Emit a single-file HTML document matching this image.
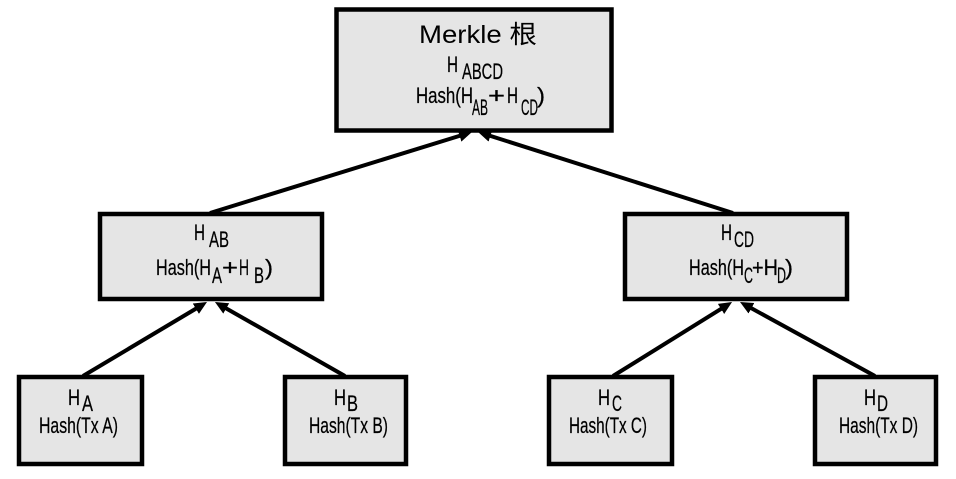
<!DOCTYPE html>
<html>
<head>
<meta charset="utf-8">
<style>
  html, body { margin: 0; padding: 0; background: #ffffff; }
  body { width: 956px; height: 479px; overflow: hidden; }
  svg { display: block; }
  .t { font-family: "Liberation Sans Narrow", "Liberation Sans", sans-serif; font-size: 22px; fill: #000; stroke: #000; stroke-width: 0.25; }
  .m { font-family: "Liberation Sans", "Noto Sans CJK SC", sans-serif; font-size: 25px; fill: #000; }
  rect.box { fill: #e5e5e5; stroke: #000; stroke-width: 4.5; }
  line.ar { stroke: #000; stroke-width: 4; marker-end: url(#ah); }
</style>
</head>
<body>
<svg width="956" height="479" viewBox="0 0 956 479" xmlns="http://www.w3.org/2000/svg">
  <defs>
    <marker id="ah" markerUnits="userSpaceOnUse" markerWidth="16" markerHeight="14" refX="8" refY="7" orient="auto">
      <path d="M0,1 L13,7 L0,13 z" fill="#000"/>
    </marker>
  </defs>

  <!-- Boxes -->
  <rect class="box" x="336.5" y="9.5" width="275" height="121"/>
  <rect class="box" x="100" y="214" width="222" height="85"/>
  <rect class="box" x="625" y="214" width="222" height="85"/>
  <rect class="box" x="19" y="377" width="123" height="87"/>
  <rect class="box" x="285" y="377" width="121" height="87"/>
  <rect class="box" x="549" y="377" width="123" height="87"/>
  <rect class="box" x="815" y="377" width="121" height="87"/>

  <!-- Arrows -->
  <line class="ar" x1="83" y1="376" x2="202.7" y2="304.6"/>
  <line class="ar" x1="345" y1="376" x2="219.3" y2="304.5"/>
  <line class="ar" x1="613" y1="376" x2="727.8" y2="304.7"/>
  <line class="ar" x1="875" y1="376" x2="744.4" y2="304.4"/>
  <line class="ar" x1="210" y1="213" x2="467.2" y2="133.5"/>
  <line class="ar" x1="733" y1="213" x2="482.8" y2="133.5"/>

  <!-- Root text -->
  <text class="m" x="419" y="43" textLength="118" lengthAdjust="spacingAndGlyphs">Merkle 根</text>
  <text class="t" x="447" y="72" textLength="11" lengthAdjust="spacingAndGlyphs">H</text>
  <text class="t" x="462" y="79" textLength="41" lengthAdjust="spacingAndGlyphs">ABCD</text>
  <text class="t" x="416" y="103" textLength="57" lengthAdjust="spacingAndGlyphs">Hash(H</text>
  <text class="t" x="472" y="115" textLength="16" lengthAdjust="spacingAndGlyphs">AB</text>
  <text class="t" x="488" y="103" textLength="17" lengthAdjust="spacingAndGlyphs">+</text>
  <text class="t" x="507" y="103" textLength="11" lengthAdjust="spacingAndGlyphs">H</text>
  <text class="t" x="521" y="115" textLength="17" lengthAdjust="spacingAndGlyphs">CD</text>
  <text class="t" x="537" y="103" textLength="8" lengthAdjust="spacingAndGlyphs">)</text>

  <!-- H_AB -->
  <text class="t" x="194" y="240" textLength="11" lengthAdjust="spacingAndGlyphs">H</text>
  <text class="t" x="209" y="247" textLength="20" lengthAdjust="spacingAndGlyphs">AB</text>
  <text class="t" x="156" y="275" textLength="55" lengthAdjust="spacingAndGlyphs">Hash(H</text>
  <text class="t" x="212" y="283" textLength="10" lengthAdjust="spacingAndGlyphs">A</text>
  <text class="t" x="222" y="275" textLength="16" lengthAdjust="spacingAndGlyphs">+</text>
  <text class="t" x="239" y="275" textLength="10" lengthAdjust="spacingAndGlyphs">H</text>
  <text class="t" x="254" y="283" textLength="10" lengthAdjust="spacingAndGlyphs">B</text>
  <text class="t" x="265" y="275" textLength="8" lengthAdjust="spacingAndGlyphs">)</text>

  <!-- H_CD -->
  <text class="t" x="721" y="240" textLength="11" lengthAdjust="spacingAndGlyphs">H</text>
  <text class="t" x="734" y="247" textLength="20" lengthAdjust="spacingAndGlyphs">CD</text>
  <text class="t" x="689" y="275" textLength="55" lengthAdjust="spacingAndGlyphs">Hash(H</text>
  <text class="t" x="744" y="283" textLength="9" lengthAdjust="spacingAndGlyphs">C</text>
  <text class="t" x="752" y="275" textLength="26" lengthAdjust="spacingAndGlyphs">+H</text>
  <text class="t" x="777" y="283" textLength="9" lengthAdjust="spacingAndGlyphs">D</text>
  <text class="t" x="785" y="275" textLength="8" lengthAdjust="spacingAndGlyphs">)</text>

  <!-- Leaves -->
  <text class="t" x="68" y="405" textLength="12" lengthAdjust="spacingAndGlyphs">H</text>
  <text class="t" x="82" y="411" textLength="11" lengthAdjust="spacingAndGlyphs">A</text>
  <text class="t" x="39" y="433" textLength="79" lengthAdjust="spacingAndGlyphs">Hash(Tx A)</text>

  <text class="t" x="334" y="405" textLength="12" lengthAdjust="spacingAndGlyphs">H</text>
  <text class="t" x="347" y="411" textLength="11" lengthAdjust="spacingAndGlyphs">B</text>
  <text class="t" x="309" y="433" textLength="79" lengthAdjust="spacingAndGlyphs">Hash(Tx B)</text>

  <text class="t" x="598" y="405" textLength="12" lengthAdjust="spacingAndGlyphs">H</text>
  <text class="t" x="612" y="411" textLength="10" lengthAdjust="spacingAndGlyphs">C</text>
  <text class="t" x="569" y="433" textLength="78" lengthAdjust="spacingAndGlyphs">Hash(Tx C)</text>

  <text class="t" x="864" y="405" textLength="12" lengthAdjust="spacingAndGlyphs">H</text>
  <text class="t" x="877" y="411" textLength="11" lengthAdjust="spacingAndGlyphs">D</text>
  <text class="t" x="839" y="433" textLength="79" lengthAdjust="spacingAndGlyphs">Hash(Tx D)</text>
</svg>
</body>
</html>
